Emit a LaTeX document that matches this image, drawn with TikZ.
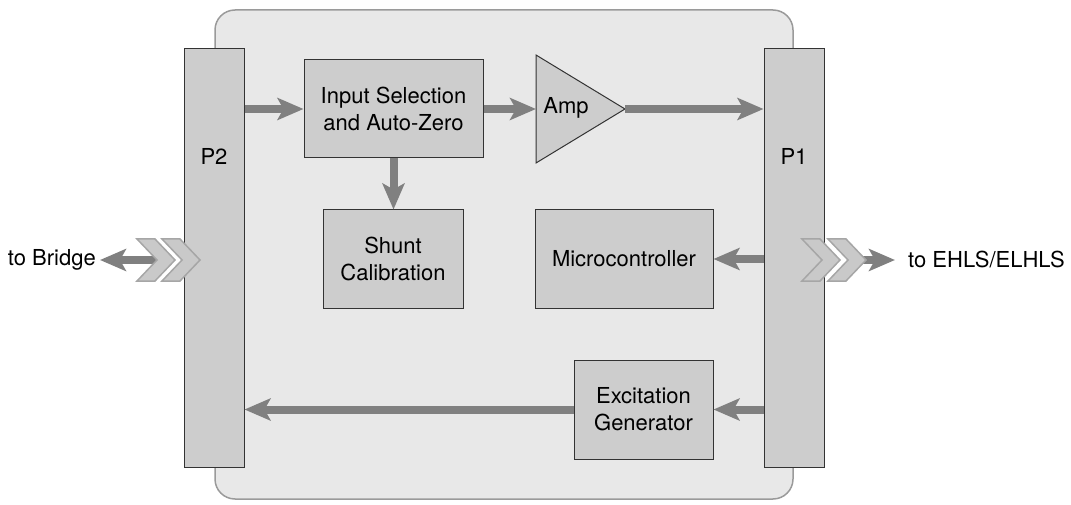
\documentclass[tikz,border=0pt]{standalone}
\usepackage{fontspec}
\setmainfont{TeX Gyre Heros}
\usetikzlibrary{arrows.meta}
\definecolor{panelfill}{HTML}{E8E8E8}
\definecolor{panelline}{HTML}{9A9A9A}
\definecolor{blockfill}{HTML}{CDCDCD}
\definecolor{blockline}{HTML}{333333}
\definecolor{flow}{HTML}{808080}
\definecolor{chevfill}{HTML}{C9C9C9}
\definecolor{chevline}{HTML}{A6A6A6}
\tikzset{
  panel/.style={fill=panelfill, draw=panelline, line width=1.5pt, rounded corners=20pt},
  block/.style={fill=blockfill, draw=blockline, line width=1pt, align=center,
    inner sep=0pt, font=\fontsize{22}{27}\selectfont},
  label/.style={font=\fontsize{22}{27}\selectfont, inner sep=0pt},
  flowarrow/.style={draw=flow, line width=8pt,
    -{Stealth[length=26pt, width=22pt, inset=6pt, fill=flow]}},
  chev/.style={fill=chevfill, draw=chevline, line width=1.5pt, line join=miter},
}
\newcommand{\chevron}[2]{%
  \path[chev] (#1,#2) -- ++(18,0) -- ++(20,21) -- ++(-20,21) -- ++(-18,0)
    -- ++(20,-21) -- cycle;}
\begin{document}
\begin{tikzpicture}[x=1pt, y=-1pt]
\useasboundingbox (0,0) rectangle (1071,505);

% enclosure
\path[panel] (215,10) rectangle (793,499);

% connector bars
\node[block, minimum width=60pt, minimum height=418pt] (p2) at (214,258) {};
\node[block, minimum width=60pt, minimum height=418pt] (p1) at (794,258) {};
\node[label] at (214,156) {P2};
\node[label] at (794,156) {P1};

% functional blocks
\node[block, minimum width=179pt, minimum height=98pt] (insel) at (393.5,109)
  {Input Selection\\and Auto-Zero};
\node[block, minimum width=140pt, minimum height=98pt] (shunt) at (393,259)
  {Shunt\\Calibration};
\node[block, minimum width=178pt, minimum height=98pt] (mcu) at (624,259)
  {Microcontroller};
\node[block, minimum width=139pt, minimum height=99pt] (exc) at (643.5,409.5)
  {Excitation\\Generator};

% amplifier
\coordinate (ampin) at (536,109);
\coordinate (ampout) at (625,109);
\path[fill=blockfill, draw=blockline, line width=1pt]
  (536,55) -- (ampout) -- (536,163) -- cycle;
\node[label] (amp) at (566,108) {Amp};

% signal flow
\draw[flowarrow] (p2.east |- insel.west) -- (insel.west);
\draw[flowarrow] (insel.east) -- (ampin);
\draw[flowarrow] (ampout) -- (p1.west |- ampout);
\draw[flowarrow] (insel.south) -- (shunt.north -| insel.south);
\draw[flowarrow] (p1.west |- mcu.east) -- (mcu.east);
\draw[flowarrow] (p1.west |- exc.east) -- (exc.east);
\draw[flowarrow] (exc.west) -- (p2.east |- exc.west);

% external links
\coordinate (lstub) at (160,260);
\coordinate (rstub) at (856,260);
\node[label, anchor=east] (bridge) at (96,260) {to Bridge};
\node[label, anchor=west] (ehls) at (908,260) {to EHLS/ELHLS};
\draw[flowarrow] (lstub) -- (bridge.east -| 100,0);
\draw[flowarrow] (rstub) -- (895,260);
\chevron{137}{239}
\chevron{162}{239}
\chevron{802}{239}
\chevron{828}{239}
\end{tikzpicture}
\end{document}
